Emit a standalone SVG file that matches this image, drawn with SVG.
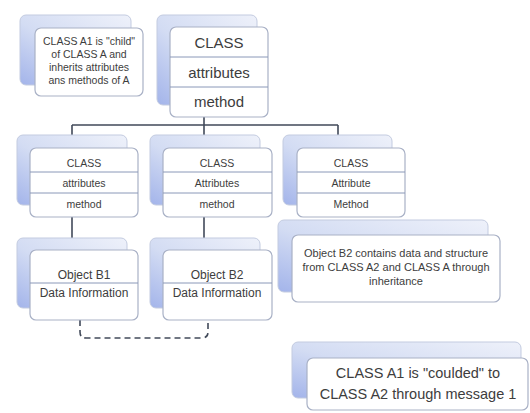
<svg xmlns="http://www.w3.org/2000/svg" width="530" height="413" viewBox="0 0 530 413">
<defs>
<linearGradient id="bg" x1="1" y1="0" x2="0" y2="1">
<stop offset="0" stop-color="#eef1fa"/>
<stop offset="0.55" stop-color="#d3dcf3"/>
<stop offset="1" stop-color="#a3b4ea"/>
</linearGradient>
<style>
.back{fill:url(#bg);stroke:#c3cbe0;stroke-width:1}
.front{fill:#ffffff;stroke:#a9b1c6;stroke-width:1.2}
.div{stroke:#8a98b8;stroke-width:1}
.con{fill:none;stroke:#424a5a;stroke-width:1.6}
.dash{fill:none;stroke:#424a5a;stroke-width:1.6;stroke-dasharray:6,4}
text{font-family:"Liberation Sans",Arial,sans-serif;fill:#3d3d3d;text-anchor:middle}
</style>
</defs>
<rect width="530" height="413" fill="#ffffff"/>
<g id="connectors">
<path class="con" d="M204 117 V125 M72 125 H338 M72 125 V140 M204 125 V140 M338 125 V140"/>
<path class="con" d="M72 217 V244 M204 217 V244"/>
<path class="dash" d="M80 320 V332 Q80 338 86 338 H202 Q208 338 208 332 V320"/>
</g>
<g id="note-a1">
<rect class="back" x="20" y="15" width="111" height="70" rx="6"/>
<rect class="front" x="35" y="28" width="108" height="68" rx="6"/>
<text font-size="10.5" x="89" y="45">CLASS A1 is "child"</text>
<text font-size="10.5" x="89" y="58">of CLASS A and</text>
<text font-size="10.5" x="89" y="71">inherits attributes</text>
<text font-size="10.5" x="89" y="84">ans methods of A</text>
</g>
<g id="class-a">
<rect class="back" x="157" y="15" width="100" height="90" rx="6"/>
<rect class="front" x="170" y="27" width="98" height="90" rx="6"/>
<line class="div" x1="170" y1="57" x2="268" y2="57"/>
<line class="div" x1="170" y1="87" x2="268" y2="87"/>
<text font-size="15" x="219" y="48">CLASS</text>
<text font-size="15" x="219" y="78">attributes</text>
<text font-size="15" x="219" y="107">method</text>
</g>
<g id="class-a1">
<rect class="back" x="17" y="135" width="110" height="70" rx="6"/>
<rect class="front" x="30" y="148" width="108" height="69" rx="6"/>
<line class="div" x1="30" y1="172" x2="138" y2="172"/>
<line class="div" x1="30" y1="193" x2="138" y2="193"/>
<text font-size="10.5" x="84" y="167">CLASS</text>
<text font-size="10.5" x="84" y="187">attributes</text>
<text font-size="10.5" x="84" y="208">method</text>
</g>
<g id="class-a2">
<rect class="back" x="150" y="135" width="110" height="70" rx="6"/>
<rect class="front" x="163" y="148" width="109" height="69" rx="6"/>
<line class="div" x1="163" y1="172" x2="272" y2="172"/>
<line class="div" x1="163" y1="193" x2="272" y2="193"/>
<text font-size="10.5" x="217" y="167">CLASS</text>
<text font-size="10.5" x="217" y="187">Attributes</text>
<text font-size="10.5" x="217" y="208">method</text>
</g>
<g id="class-a3">
<rect class="back" x="283" y="135" width="109" height="70" rx="6"/>
<rect class="front" x="297" y="148" width="108" height="69" rx="6"/>
<line class="div" x1="297" y1="172" x2="405" y2="172"/>
<line class="div" x1="297" y1="193" x2="405" y2="193"/>
<text font-size="10.5" x="351" y="167">CLASS</text>
<text font-size="10.5" x="351" y="187">Attribute</text>
<text font-size="10.5" x="351" y="208">Method</text>
</g>
<g id="object-b1">
<rect class="back" x="17" y="238" width="110" height="70" rx="6"/>
<rect class="front" x="30" y="250" width="108" height="70" rx="6"/>
<line class="div" x1="30" y1="283" x2="138" y2="283"/>
<text font-size="12" x="84" y="279">Object B1</text>
<text font-size="12" x="84" y="297">Data Information</text>
</g>
<g id="object-b2">
<rect class="back" x="150" y="238" width="110" height="70" rx="6"/>
<rect class="front" x="163" y="250" width="109" height="70" rx="6"/>
<line class="div" x1="163" y1="283" x2="272" y2="283"/>
<text font-size="12" x="217" y="279">Object B2</text>
<text font-size="12" x="217" y="297">Data Information</text>
</g>
<g id="note-b2">
<rect class="back" x="278" y="220" width="210" height="72" rx="6"/>
<rect class="front" x="292" y="235" width="208" height="67" rx="6"/>
<text font-size="11" x="396" y="257">Object B2 contains data and structure</text>
<text font-size="11" x="396" y="271">from CLASS A2 and CLASS A through</text>
<text font-size="11" x="396" y="285">inheritance</text>
</g>
<g id="note-coupled">
<rect class="back" x="292" y="342" width="229" height="56" rx="6"/>
<rect class="front" x="307" y="358" width="221" height="52" rx="6"/>
<text font-size="14.5" x="418" y="378">CLASS A1 is "coulded" to</text>
<text font-size="14.5" x="418" y="399">CLASS A2 through message 1</text>
</g>
</svg>
